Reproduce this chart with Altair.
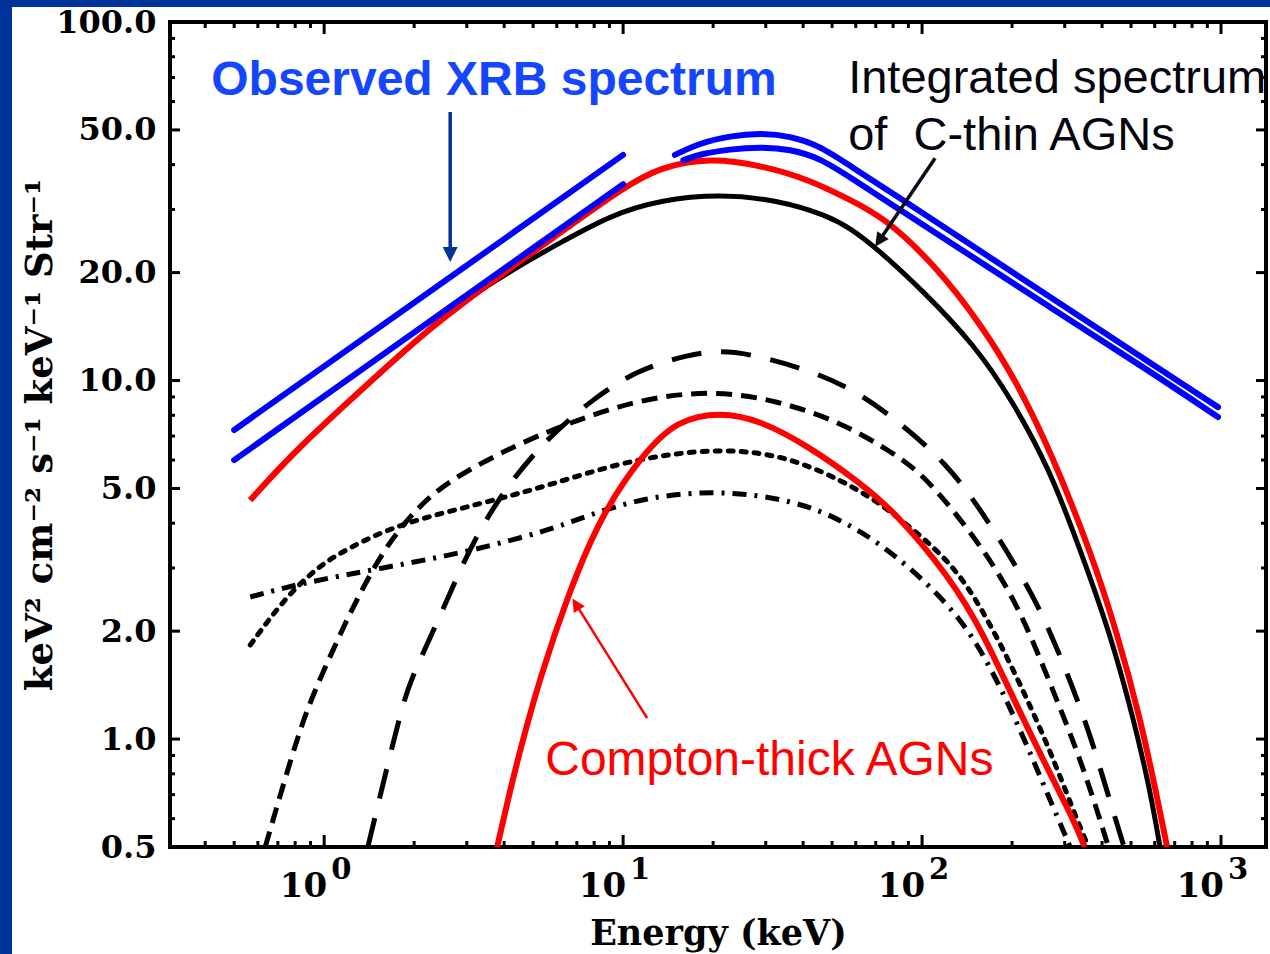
import altair as alt
import pandas as pd

# ---------------- axis ticks and labels ----------------
Y_LABEL_VALUES = [0.5, 1, 2, 5, 10, 20, 50, 100]
Y_MINOR = [0.6, 0.7, 0.8, 0.9, 3, 4, 6, 7, 8, 9, 30, 40, 60, 70, 80, 90]
X_DECADES = [1, 10, 100, 1000]
X_EXPONENTS = ["0", "1", "2", "3"]
X_MINOR = [0.4, 0.5, 0.6, 0.7, 0.8, 0.9,
           2, 3, 4, 5, 6, 7, 8, 9,
           20, 30, 40, 50, 60, 70, 80, 90,
           200, 300, 400, 500, 600, 700, 800, 900]

# ---------------- spectra (E in keV, F in keV^2 cm^-2 s^-1 keV^-1 sr^-1) ----------------
# observed XRB, two bands below 10 keV
xrb_soft_hi_E = [0.5, 10.0]
xrb_soft_hi_F = [7.28, 42.6]
xrb_soft_lo_E = [0.5, 10.0]
xrb_soft_lo_F = [6.0, 35.3]
# observed XRB, two bands above 15 keV
xrb_hard_hi_E = [14.9, 18.1, 22.8, 28.7, 36.2, 45.6, 57.4, 84.4, 124, 268, 579, 977]
xrb_hard_hi_F = [42.6, 46.0, 48.1, 49.0, 48.1, 45.1, 39.7, 32.3, 26.1, 17.1, 11.2, 8.43]
xrb_hard_lo_E = [15.9, 18.1, 22.8, 28.7, 36.2, 45.6, 57.4, 84.4, 124, 268, 579, 977]
xrb_hard_lo_F = [41.2, 42.8, 44.2, 44.8, 44.2, 41.7, 36.9, 29.9, 24.3, 16.0, 10.6, 7.91]

# total model (C-thin + Compton-thick)
total_E = [0.566, 0.812, 1.54, 2.26, 4.89, 6.16, 10.0, 13.3, 19.5, 28.7, 42.2, 57.4,
           74.1, 109, 160, 208, 268, 365, 449, 536, 611, 660]
total_F = [4.64, 6.48, 10.5, 14.1, 22.6, 25.8, 34.5, 39.4, 41.8, 39.9, 36.3, 31.9,
           28.6, 21.3, 14.1, 9.84, 6.40, 3.37, 1.98, 1.15, 0.69, 0.5]

# integrated spectrum of Compton-thin AGNs
cthin_E = [0.566, 0.812, 1.54, 2.26, 2.85, 4.89, 6.16, 9.05, 13.3, 21.1, 32.7, 48.1,
           57.4, 69.6, 100, 150, 200, 268, 338, 425, 508, 579, 625]
cthin_F = [4.64, 6.48, 10.5, 14.0, 16.5, 21.8, 24.2, 28.9, 31.9, 33.1, 31.9, 28.9,
           26.6, 23.6, 17.9, 12.56, 8.82, 5.63, 3.37, 1.98, 1.152, 0.721, 0.5]

# Compton-thick AGNs
cthick_E = [3.79, 4.19, 4.52, 5.28, 6.50, 8.4, 11.7, 15.2, 21.1, 28.7, 42.2, 62.1,
            80, 124, 160, 208, 268, 320, 350]
cthick_F = [0.5, 0.72, 0.93, 1.49, 2.49, 4.2, 6.28, 7.76, 8.17, 7.76, 6.52, 5.18,
            4.35, 2.83, 1.98, 1.23, 0.80, 0.60, 0.5]

# component spectra (long dash, short dash, dotted, dash-dot)
longdash_E = [1.40, 1.59, 1.80, 1.94, 2.39, 2.81, 3.40, 4.29, 5.61, 7.82, 11.1, 16.8,
              21.1, 26.0, 39.1, 57.4, 80, 121, 162, 230, 274, 320, 370, 419, 474]
longdash_F = [0.5, 0.778, 1.18, 1.46, 2.11, 2.90, 4.00, 5.35, 6.92, 8.82, 10.7, 11.86,
              12.1, 11.9, 10.9, 9.59, 7.91, 5.89, 4.21, 2.62, 1.91, 1.387, 0.993, 0.698, 0.5]

shortdash_E = [0.635, 0.788, 0.898, 1.07, 1.22, 1.57, 2.05, 2.64, 3.88, 5.70, 10.8,
               19.5, 32.7, 54.4, 80, 104, 169, 218, 268, 330, 385, 420]
shortdash_F = [0.5, 0.931, 1.28, 1.77, 2.25, 3.37, 4.44, 5.28, 6.28, 7.28, 8.82,
               9.41, 8.82, 7.61, 6.28, 5.38, 3.22, 2.19, 1.43, 0.931, 0.634, 0.5]

dotted_E = [0.566, 0.729, 0.947, 1.22, 1.80, 3.40, 5.70, 10.3, 21.1, 37.0, 62.1, 80,
            124, 160, 208, 268, 320, 360]
dotted_F = [1.83, 2.44, 3.02, 3.43, 4.00, 4.55, 5.11, 6.0, 6.52, 6.12, 4.95, 4.27,
            3.16, 2.29, 1.49, 0.931, 0.634, 0.5]

dashdot_E = [0.566, 0.831, 1.57, 3.0, 5.70, 7.35, 11.7, 21.1, 37.0, 54.4, 80, 124,
             160, 208, 262, 313]
dashdot_F = [2.49, 2.72, 3.0, 3.32, 3.83, 4.16, 4.73, 4.95, 4.64, 4.08, 3.32, 2.37,
             1.75, 1.115, 0.707, 0.5]

# ---------------- layout / style ----------------
W, H = 1096, 825
SERIF = "DejaVu Serif"
SANS = "Liberation Sans"
FRAME_BLUE = "#003399"

xscale = alt.Scale(type="log", domain=[0.305, 1414], nice=False)
yscale = alt.Scale(type="log", domain=[0.5, 100], nice=False)

x_axis = alt.Axis(
    title="Energy (keV)", labels=False, ticks=False, tickSize=0, domain=False, grid=False,
    titleFont=SERIF, titleFontSize=35, titleFontWeight="bold", titleColor="black",
    titleX=W / 2, titleY=86, titleBaseline="middle", titleAlign="center",
)
y_axis = alt.Axis(
    title="keV² cm⁻² s⁻¹ keV⁻¹ Str⁻¹", values=Y_LABEL_VALUES, format=".1f",
    ticks=False, tickSize=0, domain=False, grid=False,
    labelFont=SERIF, labelFontSize=32, labelFontWeight="bold", labelColor="black",
    labelPadding=14,
    titleFont=SERIF, titleFontSize=37, titleFontWeight="bold", titleColor="black",
    titleX=-130, titleY=H / 2, titleAngle=270, titleBaseline="middle", titleAlign="center",
)


def X(field="E"):
    return alt.X(f"{field}:Q", scale=xscale, axis=x_axis)


def Y(field="F"):
    return alt.Y(f"{field}:Q", scale=yscale, axis=y_axis)


def curve(E, F, color, width, dash=None, cap="butt"):
    df = pd.DataFrame({"E": E, "F": F})
    props = dict(color=color, strokeWidth=width, interpolate="basis", clip=True,
                 strokeCap=cap)
    if dash:
        props["strokeDash"] = dash
    return alt.Chart(df).mark_line(**props).encode(x=X(), y=Y())


def xticks(values, length, top):
    df = pd.DataFrame({"E": values})
    return alt.Chart(df).mark_rule(color="black", strokeWidth=3).encode(
        x=X(),
        y=alt.value(0 if top else H),
        y2=alt.value(length if top else H - length),
    )


def yticks(values, length, right):
    df = pd.DataFrame({"F": values})
    return alt.Chart(df).mark_rule(color="black", strokeWidth=3).encode(
        y=Y(),
        x=alt.value(W if right else 0),
        x2=alt.value(W - length if right else length),
    )


def arrow(E0, F0, E1, F1, color, width, head_size, angle):
    line = alt.Chart(pd.DataFrame({"E": [E0], "F": [F0], "E2": [E1], "F2": [F1]})).mark_rule(
        color=color, strokeWidth=width).encode(x=X(), y=Y(), x2="E2:Q", y2="F2:Q")
    head = alt.Chart(pd.DataFrame({"E": [E1], "F": [F1]})).mark_point(
        shape="M0,-1L1,1L-1,1Z", filled=True, color=color, opacity=1,
        size=head_size, angle=angle, strokeWidth=0).encode(x=X(), y=Y())
    return [line, head]


def note(E, F, text, color, weight="normal", size=48):
    df = pd.DataFrame({"E": [E], "F": [F], "t": [text]})
    return alt.Chart(df).mark_text(
        align="left", baseline="alphabetic", font=SANS, fontSize=size,
        fontWeight=weight, color=color).encode(x=X(), y=Y(), text="t:N")


layers = []

# blue frame strips along the left and top edges of the slide
layers.append(alt.Chart(pd.DataFrame({"k": [0]})).mark_rect(color=FRAME_BLUE).encode(
    x=alt.value(-170), x2=alt.value(-158), y=alt.value(-22), y2=alt.value(H + 110)))
layers.append(alt.Chart(pd.DataFrame({"k": [0]})).mark_rect(color=FRAME_BLUE).encode(
    x=alt.value(-170), x2=alt.value(W + 10), y=alt.value(-22), y2=alt.value(-15)))

# inward ticks on all four sides
layers += [
    xticks(X_DECADES, 12, top=False), xticks(X_MINOR, 6, top=False),
    xticks(X_DECADES, 12, top=True), xticks(X_MINOR, 6, top=True),
    yticks(Y_LABEL_VALUES, 10, right=False), yticks(Y_MINOR, 5, right=False),
    yticks(Y_LABEL_VALUES, 10, right=True), yticks(Y_MINOR, 5, right=True),
]

# x tick labels as 10^n
xlab = pd.DataFrame({"E": X_DECADES, "base": ["10"] * len(X_DECADES), "exp": X_EXPONENTS})
layers.append(alt.Chart(xlab).mark_text(
    align="right", baseline="alphabetic", font=SERIF, fontSize=34, fontWeight="bold",
    color="black", dx=3).encode(x=X(), y=alt.value(H + 50), text="base:N"))
layers.append(alt.Chart(xlab).mark_text(
    align="left", baseline="alphabetic", font=SERIF, fontSize=29, fontWeight="bold",
    color="black", dx=7).encode(x=X(), y=alt.value(H + 32), text="exp:N"))

# model components
BLACK = "black"
layers += [
    curve(dashdot_E, dashdot_F, BLACK, 5, dash=[14, 8, 3, 8]),
    curve(dotted_E, dotted_F, BLACK, 5, dash=[5, 8], cap="round"),
    curve(shortdash_E, shortdash_F, BLACK, 5, dash=[16, 9]),
    curve(longdash_E, longdash_F, BLACK, 5, dash=[30, 20]),
    curve(cthin_E, cthin_F, BLACK, 5),
    curve(cthick_E, cthick_F, "#ff0000", 6),
    curve(total_E, total_F, "#ff0000", 6),
]

# observed XRB bands
BLUE = "#0000ff"
layers += [
    curve(xrb_soft_hi_E, xrb_soft_hi_F, BLUE, 6, cap="round"),
    curve(xrb_soft_lo_E, xrb_soft_lo_F, BLUE, 6, cap="round"),
    curve(xrb_hard_hi_E, xrb_hard_hi_F, BLUE, 6, cap="round"),
    curve(xrb_hard_lo_E, xrb_hard_lo_F, BLUE, 6, cap="round"),
]

# annotations
layers.append(note(0.419, 62.6, "Observed XRB spectrum", "#1446ff", weight="bold"))
layers.append(note(56.6, 63.4, "Integrated spectrum", "#05050f", size=47))
layers.append(note(56.6, 44.0, "of\u00a0\u00a0C-thin AGNs", "#05050f", size=47))
layers.append(note(5.49, 0.793, "Compton-thick AGNs", "#ff0000"))

layers += arrow(2.64, 56.1, 2.64, 22.47, FRAME_BLUE, 3.5, 225, 180)
layers += arrow(110.5, 41.7, 71.8, 24.5, "#0a0a1a", 3.5, 196, 214)
layers += arrow(12.03, 1.144, 6.95, 2.38, "#ff0000", 2.5, 170, 328)

chart = alt.layer(*layers).properties(
    width=W, height=H,
    padding={"left": 170, "top": 22, "right": 4, "bottom": 107},
    autosize=alt.AutoSizeParams(type="none"),
).configure(background="white").configure_view(stroke="black", strokeWidth=4)

chart.save("out.html", embed_options={"renderer": "svg", "actions": False})
